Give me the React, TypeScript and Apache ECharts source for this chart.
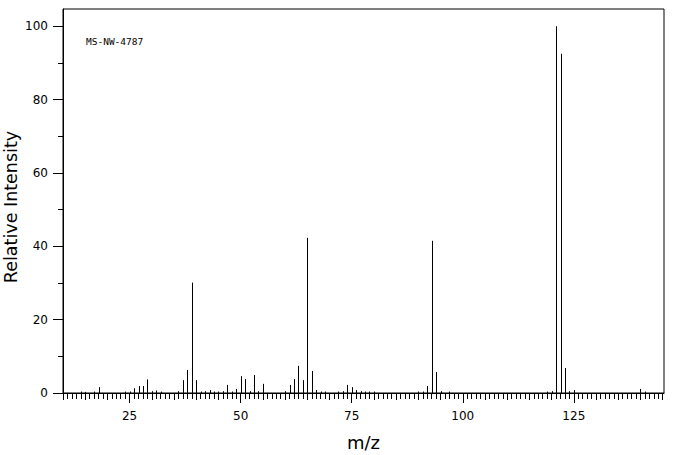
import React, { useEffect, useRef } from "react";
import * as echarts from "echarts";

const MZ = [14, 15, 17, 18, 24, 25, 26, 27, 28, 29, 30, 31, 32, 36, 37, 38, 39, 40, 41, 42, 43, 44, 45, 46, 47, 48, 49, 50, 51, 52, 53, 54, 55, 60, 61, 62, 63, 64, 65, 66, 67, 68, 69, 72, 73, 74, 75, 76, 77, 78, 79, 80, 90, 91, 92, 93, 94, 95, 97, 119, 120, 121, 122, 123, 124, 125, 140, 141];
const INTENSITY = [0.4, 0.3, 0.4, 1.6, 0.4, 0.4, 1.3, 1.9, 1.9, 3.7, 0.5, 0.7, 0.4, 0.5, 3.5, 6.3, 30.1, 3.5, 0.4, 0.5, 0.8, 0.4, 0.4, 0.5, 2.2, 0.4, 1.1, 4.6, 3.8, 0.5, 4.9, 0.5, 2.5, 0.5, 2.2, 3.8, 7.4, 3.5, 42.3, 6.0, 0.8, 0.4, 0.4, 0.4, 0.5, 2.2, 1.6, 0.8, 0.5, 0.4, 0.4, 0.4, 0.4, 0.4, 1.9, 41.5, 5.7, 0.5, 0.4, 0.4, 0.5, 100, 92.5, 6.8, 0.5, 0.8, 1.1, 0.4];

const X_LABELS = [25, 50, 75, 100, 125];
const X_FIVE_TICKS = [10, 15, 20, 25, 30, 35, 40, 45, 50, 55, 60, 65, 70, 75, 80, 85, 90, 95, 100, 105, 110, 115, 120, 125, 130, 135, 140, 145];
const X_UNIT_TICKS: number[] = [];
for (let v = 10; v <= 145; v++) X_UNIT_TICKS.push(v);
const Y_LABELS = [0, 20, 40, 60, 80, 100];
const Y_MINOR = [10, 30, 50, 70, 90];

const X_MIN = 10;
const X_MAX = 145.3;
const Y_MIN = 0;
const Y_MAX = 104.7;

const FONT = "DejaVu Sans";

export default function App() {
  const ref = useRef<HTMLDivElement>(null);
  useEffect(() => {
    document.body.style.margin = "0";
    const chart = echarts.init(ref.current!, null, { renderer: "svg" });
    const data = MZ.map((m, i) => [m, INTENSITY[i]]);
    const baseX = {
      type: "value",
      min: X_MIN,
      max: X_MAX,
      position: "bottom",
      splitLine: { show: false },
    };
    const baseY = {
      type: "value",
      min: Y_MIN,
      max: Y_MAX,
      position: "left",
      splitLine: { show: false },
    };
    chart.setOption({
      animation: false,
      backgroundColor: "#fff",
      grid: {
        left: 63,
        right: 12,
        top: 9,
        bottom: 62,
        show: true,
        borderColor: "#000",
        borderWidth: 1,
        backgroundColor: "transparent",
        containLabel: false,
        outerBoundsMode: "none",
      },
      xAxis: [
        {
          ...baseX,
          name: "m/z",
          nameLocation: "middle",
          nameGap: 40,
          nameTextStyle: { fontFamily: FONT, fontSize: 18, color: "#000" },
          axisLine: { show: true, lineStyle: { color: "#000", width: 1 } },
          axisTick: { show: true, customValues: X_UNIT_TICKS, length: 6, lineStyle: { color: "#000" } },
          axisLabel: {
            show: true,
            customValues: X_LABELS,
            margin: 17,
            fontFamily: FONT,
            fontSize: 12,
            color: "#000",
          },
        },
        {
          ...baseX,
          axisLine: { show: false },
          axisTick: { show: true, customValues: X_FIVE_TICKS, length: 7, lineStyle: { color: "#000" } },
          axisLabel: { show: false },
        },
        {
          ...baseX,
          axisLine: { show: false },
          axisTick: { show: true, customValues: X_LABELS, length: 10, lineStyle: { color: "#000" } },
          axisLabel: { show: false },
        },
      ],
      yAxis: [
        {
          ...baseY,
          axisLine: { show: true, lineStyle: { color: "#000", width: 1 } },
          axisTick: { show: true, customValues: Y_LABELS, length: 10, lineStyle: { color: "#000" } },
          axisLabel: {
            show: true,
            customValues: Y_LABELS,
            margin: 15,
            fontFamily: FONT,
            fontSize: 12,
            color: "#000",
          },
        },
        {
          ...baseY,
          axisLine: { show: false },
          axisTick: { show: true, customValues: Y_MINOR, length: 5, lineStyle: { color: "#000" } },
          axisLabel: { show: false },
        },
      ],
      graphic: [
        {
          type: "text",
          left: 86,
          top: 36,
          style: {
            text: "MS-NW-4787",
            fontFamily: "DejaVu Sans Mono",
            fontSize: 9.5,
            fill: "#000",
          },
        },
        {
          type: "text",
          x: 11,
          y: 207,
          rotation: Math.PI / 2,
          style: {
            text: "Relative Intensity",
            fontFamily: FONT,
            fontSize: 17.5,
            fill: "#000",
            textAlign: "center",
            textVerticalAlign: "middle",
          },
        },
      ],
      series: [
        {
          type: "custom",
          xAxisIndex: 0,
          yAxisIndex: 0,
          encode: { x: 0, y: 1 },
          data,
          renderItem: (params: any, api: any) => {
            const p0 = api.coord([api.value(0), 0]);
            const p1 = api.coord([api.value(0), api.value(1)]);
            const x = Math.round(p0[0]) + 0.5;
            return {
              type: "line",
              shape: { x1: x, y1: p0[1], x2: x, y2: p1[1] },
              style: { stroke: "#000", lineWidth: 1 },
            };
          },
        },
      ],
    });
    return () => chart.dispose();
  }, []);
  return <div ref={ref} style={{ width: 676, height: 455 }} />;
}
